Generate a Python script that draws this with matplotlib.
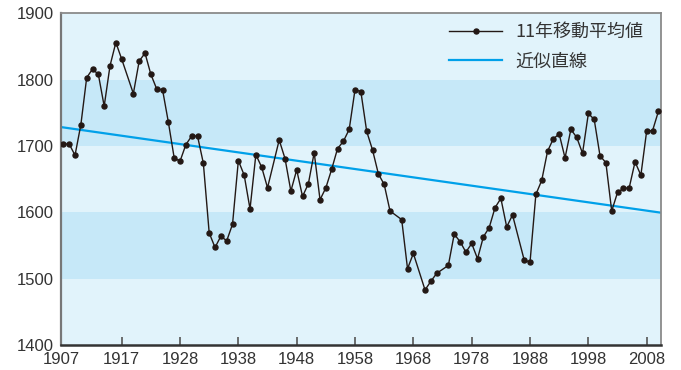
import matplotlib.pyplot as plt

plt.rcParams['font.family'] = ['Liberation Sans', 'Noto Sans CJK JP', 'DejaVu Sans']

# 11年移動平均値 (dots as drawn; a few years have no dot in the original)
years = [1908, 1909, 1910, 1911, 1912, 1913, 1914, 1915, 1916, 1917, 1918,
         1920, 1921, 1922, 1923, 1924, 1925, 1926, 1927, 1928, 1929, 1930,
         1931, 1932, 1933, 1934, 1935, 1936, 1937, 1938, 1939, 1940, 1941,
         1942, 1943,
         1945, 1946, 1947, 1948, 1949, 1950, 1951, 1952, 1953, 1954, 1955,
         1956, 1957, 1958, 1959, 1960, 1961, 1962, 1963, 1964,
         1966, 1967, 1968,
         1970, 1971, 1972,
         1974, 1975, 1976, 1977, 1978, 1979, 1980, 1981, 1982, 1983, 1984,
         1985,
         1987, 1988, 1989, 1990, 1991, 1992, 1993, 1994, 1995, 1996, 1997,
         1998, 1999, 2000, 2001, 2002, 2003, 2004, 2005, 2006, 2007, 2008,
         2009, 2010]
values = [1703, 1703, 1686, 1732, 1803, 1816, 1808, 1760, 1821, 1856, 1831,
          1779, 1828, 1840, 1808, 1786, 1785, 1736, 1682, 1677, 1702, 1715,
          1715, 1674, 1569, 1547, 1564, 1557, 1582, 1678, 1656, 1605, 1687,
          1668, 1637,
          1709, 1681, 1632, 1664, 1624, 1643, 1690, 1619, 1637, 1665, 1696,
          1707, 1725, 1785, 1782, 1722, 1694, 1658, 1642, 1602,
          1589, 1515, 1538,
          1483, 1496, 1508,
          1520, 1567, 1556, 1540, 1553, 1530, 1563, 1577, 1607, 1621, 1578,
          1596,
          1528, 1525, 1627, 1648, 1692, 1711, 1718, 1682, 1725, 1713, 1689,
          1749, 1740, 1685, 1675, 1602, 1630, 1636, 1637, 1676, 1656, 1723,
          1723, 1752]

# 近似直線 (two points)
trend_years = [1908, 2010]
trend_values = [1728, 1600]

band_ranges = [(1500, 1600), (1700, 1800)]
tick_pos = [1907.6, 1918, 1928, 1938, 1948, 1958, 1968, 1978, 1988, 1998, 2008]
tick_labels = ['1907', '1917', '1928', '1938', '1948', '1958', '1968',
               '1978', '1988', '1998', '2008']

fig = plt.figure(figsize=(6.81, 3.70), dpi=100)
ax = fig.add_axes([0.0896, 0.0676, 0.8806, 0.8964])
ax.set_facecolor('#e1f3fb')
for lo, hi in band_ranges:
    ax.axhspan(lo, hi, color='#c6e8f8', lw=0, zorder=0)

ax.axline((trend_years[0], trend_values[0]), (trend_years[1], trend_values[1]),
          color='#00a0e9', lw=1.6, label='近似直線', zorder=2)
ax.plot(years, values, color='#231815', lw=1.0, marker='o', markersize=3.6,
        label='11年移動平均値', zorder=3)

ax.set_xlim(1907.6, 2010.4)
ax.set_ylim(1400, 1900)
ax.set_yticks([1400, 1500, 1600, 1700, 1800, 1900])
ax.set_xticks(tick_pos)
ax.set_xticklabels(tick_labels)
ax.tick_params(axis='y', length=0, pad=5.5, labelsize=12, labelcolor='#333333')
ax.tick_params(axis='x', direction='in', length=6, width=1.2, color='#555555',
               pad=5, labelsize=12, labelcolor='#333333')

ax.spines['bottom'].set_color('#333333')
ax.spines['bottom'].set_linewidth(1.8)
ax.spines['left'].set_color('#777777')
ax.spines['left'].set_linewidth(1.6)
for s in ['top', 'right']:
    ax.spines[s].set_color('#8a8a8a')
    ax.spines[s].set_linewidth(1.3)

handles, labels = ax.get_legend_handles_labels()
leg = ax.legend(handles[::-1], labels[::-1], loc='upper left',
                bbox_to_anchor=(0.647, 0.97), frameon=False,
                prop={'family': ['Noto Sans CJK JP'], 'size': 13},
                handlelength=2.95, handletextpad=0.72, labelspacing=0.63,
                borderpad=0, borderaxespad=0)
for t in leg.get_texts():
    t.set_color('#333333')

fig.savefig('out.png', dpi=100)
